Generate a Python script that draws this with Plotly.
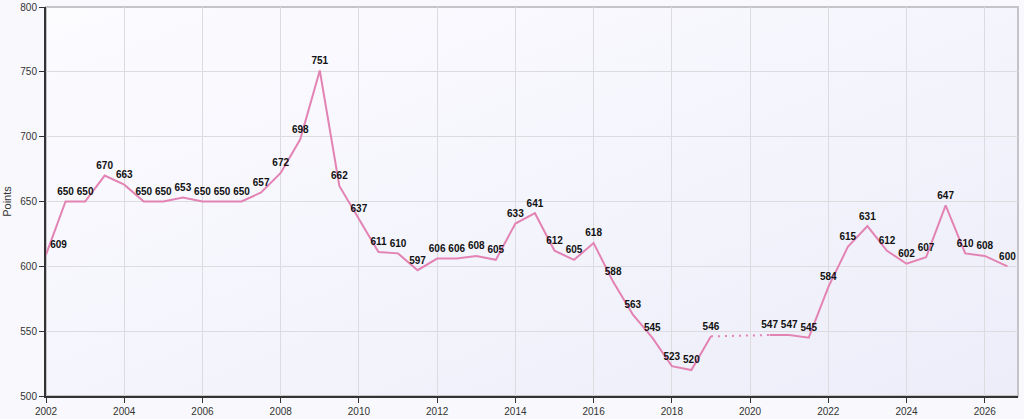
import base64
import plotly.graph_objects as go

# Données (points par semestre, trou en 2019.5 - 2020)
annees = [2002.0, 2002.5, 2003.0, 2003.5, 2004.0, 2004.5, 2005.0, 2005.5,
          2006.0, 2006.5, 2007.0, 2007.5, 2008.0, 2008.5, 2009.0, 2009.5,
          2010.0, 2010.5, 2011.0, 2011.5, 2012.0, 2012.5, 2013.0, 2013.5,
          2014.0, 2014.5, 2015.0, 2015.5, 2016.0, 2016.5, 2017.0, 2017.5,
          2018.0, 2018.5, 2019.0, 2019.5, 2020.0, 2020.5, 2021.0, 2021.5,
          2022.0, 2022.5, 2023.0, 2023.5, 2024.0, 2024.5, 2025.0, 2025.5,
          2026.0, 2026.58]
points = [609, 650, 650, 670, 663, 650, 650, 653,
          650, 650, 650, 657, 672, 698, 751, 662,
          637, 611, 610, 597, 606, 606, 608, 605,
          633, 641, 612, 605, 618, 588, 563, 545,
          523, 520, 546, None, None, 547, 547, 545,
          584, 615, 631, 612, 602, 607, 647, 610,
          608, 600]
ticks_x = [2002, 2004, 2006, 2008, 2010, 2012, 2014, 2016, 2018, 2020, 2022, 2024, 2026]
ticks_y = [500, 550, 600, 650, 700, 750, 800]

couleur = "#e383b4"

# segment pointillé au-dessus du trou
i_debut = points.index(None) - 1
i_fin = i_debut + 1
while points[i_fin] is None:
    i_fin += 1

labels = [str(p) if p is not None else "" for p in points]
positions = ["top center"] * len(points)
positions[0] = "top right"

fig = go.Figure()
fig.add_trace(go.Scatter(
    x=[annees[i_debut], annees[i_fin]],
    y=[points[i_debut], points[i_fin]],
    mode="lines",
    line=dict(color=couleur, width=2, dash="2px,5px"),
    hoverinfo="skip",
    showlegend=False,
))
fig.add_trace(go.Scatter(
    x=annees, y=points,
    mode="lines+markers+text",
    marker=dict(size=5, opacity=0),
    text=labels,
    textposition=positions,
    textfont=dict(family="Liberation Sans", size=10, color="#111111", weight="bold"),
    line=dict(color=couleur, width=2),
    connectgaps=False,
    cliponaxis=False,
    showlegend=False,
))

# fond dégradé de la zone de tracé
svg = ('<svg xmlns="http://www.w3.org/2000/svg" width="100" height="100" preserveAspectRatio="none">'
       '<defs><linearGradient id="g" x1="0" y1="0" x2="1" y2="1">'
       '<stop offset="0" stop-color="#fcfcff"/><stop offset="1" stop-color="#ededfa"/>'
       '</linearGradient></defs><rect width="100" height="100" fill="url(#g)"/></svg>')
src = "data:image/svg+xml;base64," + base64.b64encode(svg.encode()).decode()

fig.update_layout(
    width=1024, height=419,
    margin=dict(l=46, r=6, t=7, b=23),
    paper_bgcolor="#f9f9fd",
    plot_bgcolor="#f5f5fc",
    font=dict(family="Liberation Sans", size=10, color="#333333"),
    images=[dict(source=src, xref="paper", yref="paper", x=0, y=1, sizex=1, sizey=1,
                 xanchor="left", yanchor="top", sizing="stretch", layer="below")],
    shapes=[dict(type="rect", xref="paper", yref="paper", x0=0, y0=0, x1=1, y1=1,
                 line=dict(color="#c4c4c8", width=2), layer="below")],
)
fig.update_xaxes(
    range=[2002, 2026.85],
    tickvals=ticks_x,
    ticktext=[str(t) for t in ticks_x],
    showgrid=True, gridcolor="#dcdce0", gridwidth=1,
    showline=True, linecolor="#333333", linewidth=2,
    ticks="outside", ticklen=5, tickcolor="#333333",
    zeroline=False, automargin=False,
)
fig.update_yaxes(
    range=[500, 800],
    tickvals=ticks_y,
    title=dict(text="Points", font=dict(size=11), standoff=6),
    showgrid=True, gridcolor="#dcdce0", gridwidth=1,
    showline=True, linecolor="#333333", linewidth=2,
    ticks="outside", ticklen=5, tickcolor="#333333",
    zeroline=False, automargin=False,
)

# pas de marge autour du graphique dans la page
fig.write_html("out.html", config={"displayModeBar": False},
               post_script="document.body.style.margin='0';")
